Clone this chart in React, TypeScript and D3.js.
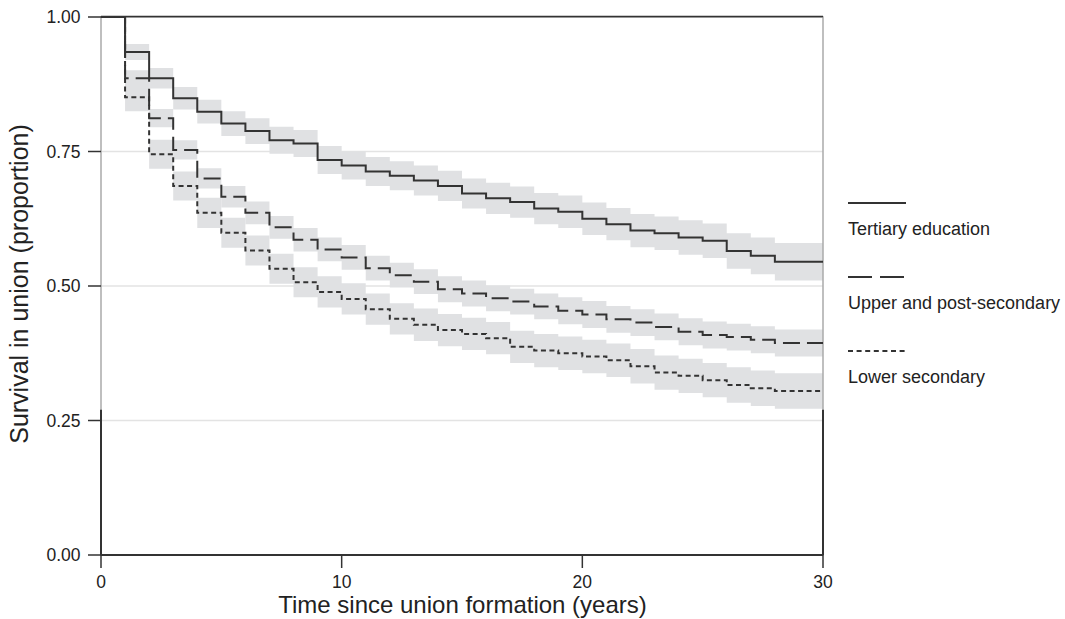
import React from "react";
import * as d3 from "d3";

const years = d3.range(0, 30);
const tertiary = [1.0, 0.935, 0.886, 0.849, 0.824, 0.802, 0.788, 0.771, 0.765, 0.734, 0.724, 0.713, 0.705, 0.696, 0.686, 0.672, 0.663, 0.656, 0.644, 0.638, 0.625, 0.615, 0.603, 0.598, 0.59, 0.584, 0.565, 0.556, 0.545, 0.545];
const upper = [1.0, 0.886, 0.812, 0.753, 0.7, 0.666, 0.636, 0.609, 0.586, 0.568, 0.553, 0.533, 0.52, 0.508, 0.494, 0.486, 0.477, 0.471, 0.462, 0.454, 0.447, 0.438, 0.432, 0.424, 0.415, 0.409, 0.405, 0.4, 0.394, 0.394];
const lower = [1.0, 0.851, 0.745, 0.686, 0.636, 0.599, 0.566, 0.532, 0.507, 0.489, 0.476, 0.457, 0.439, 0.428, 0.418, 0.411, 0.403, 0.387, 0.38, 0.375, 0.369, 0.362, 0.351, 0.339, 0.333, 0.325, 0.316, 0.31, 0.305, 0.305];
const tertiaryCI = [0, 0.015, 0.019, 0.021, 0.022, 0.023, 0.024, 0.025, 0.025, 0.026, 0.026, 0.027, 0.027, 0.028, 0.028, 0.028, 0.029, 0.029, 0.029, 0.03, 0.03, 0.03, 0.031, 0.031, 0.032, 0.032, 0.033, 0.034, 0.035, 0.035];
const upperCI = [0, 0.015, 0.017, 0.018, 0.019, 0.02, 0.021, 0.021, 0.022, 0.022, 0.023, 0.023, 0.023, 0.023, 0.024, 0.024, 0.024, 0.024, 0.024, 0.025, 0.025, 0.025, 0.025, 0.025, 0.025, 0.025, 0.025, 0.025, 0.025, 0.025];
const lowerCI = [0, 0.026, 0.027, 0.027, 0.028, 0.028, 0.028, 0.028, 0.028, 0.029, 0.029, 0.029, 0.029, 0.03, 0.03, 0.03, 0.03, 0.03, 0.031, 0.031, 0.031, 0.031, 0.032, 0.032, 0.032, 0.032, 0.033, 0.033, 0.033, 0.033];
const seriesNames = ["Tertiary education", "Upper and post-secondary", "Lower secondary"];
const xTicks = [0, 10, 20, 30];
const yTicks = [0, 0.25, 0.5, 0.75, 1.0];

const W = 1065, H = 619;
const x = d3.scaleLinear().domain([0, 30]).range([101, 823]);
const y = d3.scaleLinear().domain([0, 1]).range([555, 17]);
const FONT = "'Liberation Sans', Arial, Helvetica, sans-serif";
const INK = "#333333";
const dashes = ["none", "17,7", "5,3.5"];
const legendDash = ["none", "24,8", "5,3.6"];

type Pt = { t: number; v: number; ci: number };

export default function App() {
  const series = [
    { vals: tertiary, ci: tertiaryCI },
    { vals: upper, ci: upperCI },
    { vals: lower, ci: lowerCI },
  ].map((s) => {
    const pts: Pt[] = years.map((t) => ({ t, v: s.vals[t], ci: s.ci[t] }));
    pts.push({ t: 30, v: s.vals[29], ci: s.ci[29] });
    return pts;
  });

  const line = d3
    .line<Pt>()
    .x((d) => x(d.t))
    .y((d) => y(d.v))
    .curve(d3.curveStepAfter);
  const area = d3
    .area<Pt>()
    .x((d) => x(d.t))
    .y0((d) => y(d.v - d.ci))
    .y1((d) => y(d.v + d.ci))
    .curve(d3.curveStepAfter);

  const legendY = [203, 277, 351];

  return (
    <svg width={W} height={H} style={{ position: "absolute", left: 0, top: 0 }} fontFamily={FONT}>
      <rect x={0} y={0} width={W} height={H} fill="#fff" />
      {yTicks.map((t) => (
        <line key={t} x1={x(0)} x2={x(30)} y1={y(t)} y2={y(t)} stroke="#e3e3e3" strokeWidth={1.3} />
      ))}
      {series.map((pts, i) => (
        <path key={"b" + i} d={area(pts.filter((p) => p.t >= 1)) || ""} fill="#e0e1e3" />
      ))}
      <rect x={x(0)} y={y(1)} width={x(30) - x(0)} height={y(0) - y(1)} fill="none" stroke="#aaaaaa" strokeWidth={1.5} />
      <line x1={x(0)} x2={x(30)} y1={y(1) - 0.5} y2={y(1) - 0.5} stroke={INK} strokeWidth={1.5} />
      <line x1={x(0)} x2={x(30)} y1={y(0)} y2={y(0)} stroke={INK} strokeWidth={2} />
      <line x1={x(0)} x2={x(0)} y1={y(0.27)} y2={y(0)} stroke={INK} strokeWidth={2} />
      <line x1={x(30)} x2={x(30)} y1={y(0.27)} y2={y(0)} stroke={INK} strokeWidth={2} />
      {series.map((pts, i) => (
        <path key={"l" + i} d={line(pts) || ""} fill="none" stroke={INK} strokeWidth={2} strokeDasharray={dashes[i]} />
      ))}
      {yTicks.map((t) => (
        <g key={"y" + t}>
          <line x1={88} x2={x(0)} y1={y(t)} y2={y(t)} stroke={INK} strokeWidth={1.5} />
          <text x={80.5} y={y(t)} dy="0.35em" textAnchor="end" fontSize={17.5} fill="#222">
            {t.toFixed(2)}
          </text>
        </g>
      ))}
      {xTicks.map((t) => (
        <g key={"x" + t}>
          <line x1={x(t)} x2={x(t)} y1={y(0)} y2={568} stroke={INK} strokeWidth={1.5} />
          <text x={x(t)} y={588} textAnchor="middle" fontSize={17.5} fill="#222">
            {t}
          </text>
        </g>
      ))}
      <text x={462.5} y={613} textAnchor="middle" fontSize={24} fill="#222">
        Time since union formation (years)
      </text>
      <text transform={`translate(28,${284}) rotate(-90)`} textAnchor="middle" fontSize={25} fill="#222">
        Survival in union (proportion)
      </text>
      {seriesNames.map((n, i) => (
        <g key={"lg" + i}>
          <line x1={848} x2={906} y1={legendY[i]} y2={legendY[i]} stroke={INK} strokeWidth={2.2} strokeDasharray={legendDash[i]} />
          <text x={848} y={legendY[i] + 32} fontSize={18} fill="#222">
            {n}
          </text>
        </g>
      ))}
    </svg>
  );
}
